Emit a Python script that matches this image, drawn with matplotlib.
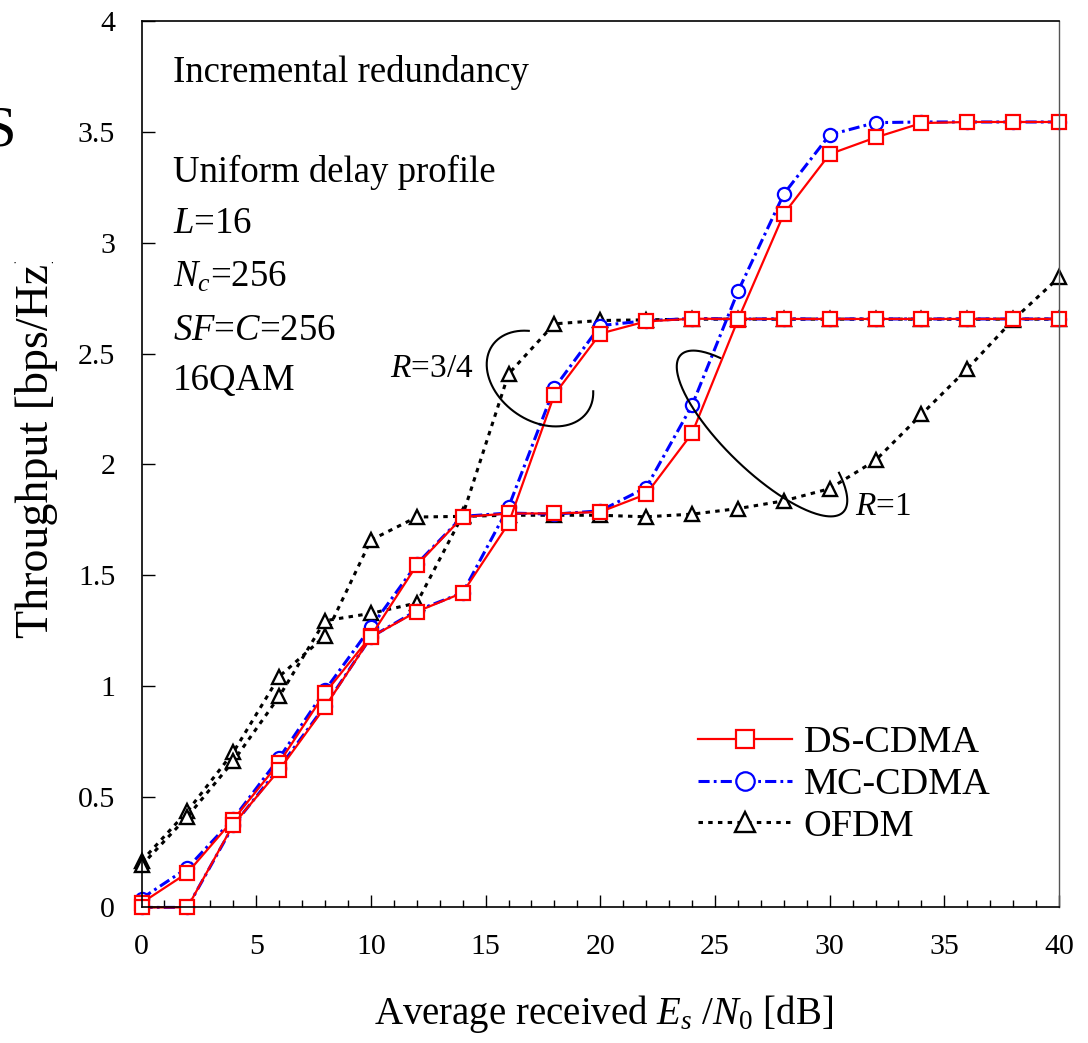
import numpy as np
import matplotlib
matplotlib.use('Agg')
import matplotlib.pyplot as plt
from matplotlib.ticker import MultipleLocator
from matplotlib.transforms import Bbox, TransformedBbox

plt.rcParams['font.family'] = 'Liberation Serif'
plt.rcParams['mathtext.fontset'] = 'custom'
plt.rcParams['mathtext.rm'] = 'Liberation Serif'
plt.rcParams['mathtext.it'] = 'Liberation Serif:italic'
plt.rcParams['lines.scale_dashes'] = False

### Es/N0 in dB, every 2 dB
snr = list(range(0, 41, 2))

### throughput, R=1 and R=3/4 for each scheme
ds_r1 = [0.02, 0.156, 0.396, 0.653, 0.968, 1.225, 1.545, 1.762, 1.778, 1.778, 1.785,
         1.865, 2.14, 2.652, 3.13, 3.40, 3.475, 3.54, 3.545, 3.545, 3.545]
ds_r34 = [0.0, 0.0, 0.374, 0.62, 0.905, 1.22, 1.335, 1.42, 1.733, 2.315, 2.59,
          2.645, 2.657, 2.656, 2.656, 2.656, 2.656, 2.656, 2.656, 2.656, 2.656]
mc_r1 = [0.04, 0.178, 0.40, 0.674, 0.98, 1.265, 1.55, 1.765, 1.78, 1.775, 1.79,
         1.895, 2.266, 2.78, 3.22, 3.487, 3.542, 3.545, 3.545, 3.545, 3.545]
mc_r34 = [0.0, 0.0, 0.37, 0.63, 0.91, 1.22, 1.34, 1.42, 1.807, 2.345, 2.626,
          2.648, 2.658, 2.656, 2.656, 2.656, 2.656, 2.656, 2.656, 2.656, 2.656]
ofdm_r1 = [0.209, 0.434, 0.70, 1.042, 1.225, 1.658, 1.762, 1.765, 1.77, 1.77, 1.77,
           1.763, 1.775, 1.80, 1.835, 1.89, 2.018, 2.225, 2.431, 2.652, 2.844]
ofdm_r34 = [0.19, 0.41, 0.66, 0.952, 1.294, 1.327, 1.374, 1.77, 2.408, 2.634, 2.649,
            2.652, 2.655, 2.655, 2.655, 2.655, 2.655, 2.655, 2.655, 2.655, 2.655]

xticks = [0, 5, 10, 15, 20, 25, 30, 35, 40]
yticks = [0, 0.5, 1, 1.5, 2, 2.5, 3, 3.5, 4]
ytick_labels = ['0', '0.5', '1', '1.5', '2', '2.5', '3', '3.5', '4']

params = ['Incremental redundancy', '', 'Uniform delay profile', r'$L$=16',
          r'$N_c$=256', r'$SF$=$C$=256', '16QAM']

fig = plt.figure(figsize=(10.88, 10.43), dpi=100)
ax = fig.add_axes([0.1301, 0.1300, 0.8433, 0.8497])

### OFDM first so the squares end up on top
h = {}
for i, y in enumerate([ofdm_r1, ofdm_r34]):
    h['OFDM'], = ax.plot(snr, y, color='black', lw=2.2, dashes=(3.2, 3.8), marker='^', ms=10.5,
                         mfc='white', mec='black', mew=1.7, clip_on=False)
for i, y in enumerate([mc_r1, mc_r34]):
    h['MC-CDMA'], = ax.plot(snr, y, color='#0000ff', lw=2.2, dashes=(8, 3, 2, 3), marker='o', ms=9.5,
                            mfc='white', mec='#0000ff', mew=1.6, clip_on=False)
for i, y in enumerate([ds_r1, ds_r34]):
    h['DS-CDMA'], = ax.plot(snr, y, color='#ff0000', lw=1.6, marker='s', ms=9.5,
                            mfc='white', mec='#ff0000', mew=1.6, clip_on=False)


def ring(cx, cy, a, b, ang, t0, t1):
    ### open ellipse around a curve pair, a/b in screen pixels
    sx = 917.5 / 40
    sy = 886.0 / 4
    t = np.radians(np.linspace(t0, t1, 200))
    phi = np.radians(ang)
    dx = a * np.cos(t) * np.cos(phi) - b * np.sin(t) * np.sin(phi)
    dy = a * np.cos(t) * np.sin(phi) + b * np.sin(t) * np.cos(phi)
    ax.plot(cx + dx / sx, cy - dy / sy, color='black', lw=1.5)


ring(17.37, 2.387, 58, 42, 35, -28.6, 231)
ring(27.05, 2.139, 113, 37, 44, -43, 223)
ax.text(10.83, 2.392, r'$R$=3/4', fontsize=24, va='baseline')
ax.text(31.1, 1.77, r'$R$=1', fontsize=24, va='baseline')

ys = [0.931, 0.0, 0.818, 0.761, 0.700, 0.640, 0.5835]
for s, yy in zip(params, ys):
    if s:
        ax.text(0.034, yy, s, transform=ax.transAxes, fontsize=26.5, va='baseline')

ax.set_xlim(0, 40)
ax.set_ylim(0, 4)
ax.set_xticks(xticks)
ax.xaxis.set_minor_locator(MultipleLocator(1))
ax.set_yticks(yticks)
ax.set_yticklabels(ytick_labels)
ax.tick_params(which='both', direction='in', labelsize=21.5, pad=19, top=False, right=False)
ax.tick_params(which='major', length=9, width=1)
ax.tick_params(which='minor', length=5, width=1)
for s in ax.spines.values():
    s.set_linewidth(1.2)
ax.spines['right'].set_color('#555555')
ax.spines['right'].set_linewidth(1.0)

ax.set_xlabel(r'Average received $E_s$ /$N_0$ [dB]', fontsize=28, va='baseline')
ax.xaxis.set_label_coords(0.504, -0.132)

names = ['DS-CDMA', 'MC-CDMA', 'OFDM']
leg = ax.legend([h[n] for n in names], names, loc='upper left', bbox_to_anchor=(0.607, 0.205),
                frameon=False, fontsize=27.5, handlelength=2.45, handletextpad=0.3,
                labelspacing=0.18, borderpad=0, borderaxespad=0, markerscale=1.4)

### y label is clipped at the top in the original
yl = fig.text(0.034, 1 - 638 / 1043, 'Throughput [bps/Hz]', rotation=90,
              fontsize=33, ha='center', va='bottom')
yl.set_clip_box(TransformedBbox(Bbox([[0, 0], [1, 1 - 262 / 1043]]), fig.transFigure))
yl.set_clip_on(True)

### stray glyph cut at the left edge
fig.text(-17 / 1088, 1 - 145 / 1043, 'S', fontsize=42, va='baseline')

fig.savefig('out.png', dpi=100)
